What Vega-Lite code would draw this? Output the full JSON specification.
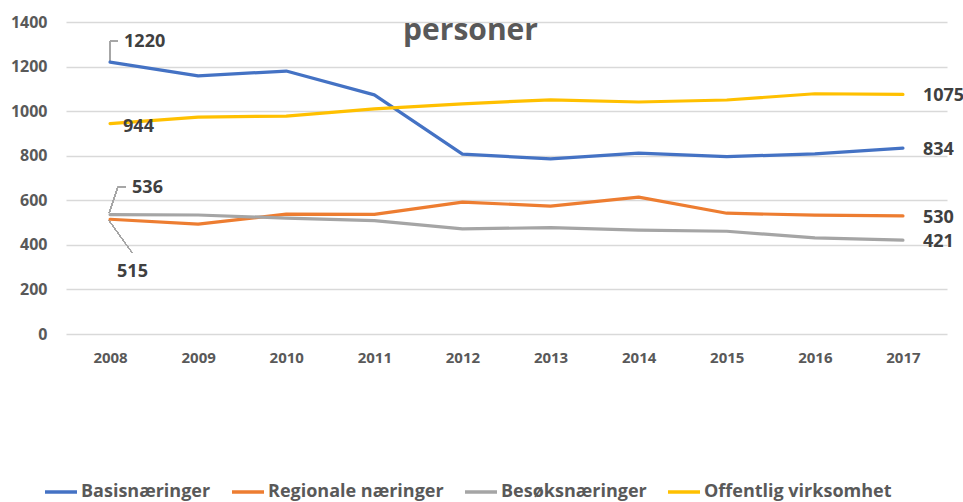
{
  "$schema": "https://vega.github.io/schema/vega-lite/v6.json",
  "width": 881,
  "height": 312,
  "autosize": {"type": "none"},
  "padding": {"left": 66, "top": 22, "right": 16, "bottom": 168},
  "background": "white",
  "config": {
    "view": {"stroke": null},
    "font": "Open Sans",
    "text": {"font": "Open Sans"}
  },
  "title": {
    "text": "personer",
    "fontSize": 30,
    "fontWeight": "bold",
    "color": "#595959",
    "font": "Open Sans",
    "anchor": "middle",
    "baseline": "top",
    "offset": -32,
    "dx": -36
  },
  "data": {
    "values": [
      {"series": "Basisnæringer", "year": 2008, "value": 1220},
      {"series": "Basisnæringer", "year": 2009, "value": 1158},
      {"series": "Basisnæringer", "year": 2010, "value": 1180},
      {"series": "Basisnæringer", "year": 2011, "value": 1073},
      {"series": "Basisnæringer", "year": 2012, "value": 807},
      {"series": "Basisnæringer", "year": 2013, "value": 786},
      {"series": "Basisnæringer", "year": 2014, "value": 812},
      {"series": "Basisnæringer", "year": 2015, "value": 796},
      {"series": "Basisnæringer", "year": 2016, "value": 808},
      {"series": "Basisnæringer", "year": 2017, "value": 834},
      {"series": "Regionale næringer", "year": 2008, "value": 515},
      {"series": "Regionale næringer", "year": 2009, "value": 493},
      {"series": "Regionale næringer", "year": 2010, "value": 538},
      {"series": "Regionale næringer", "year": 2011, "value": 537},
      {"series": "Regionale næringer", "year": 2012, "value": 592},
      {"series": "Regionale næringer", "year": 2013, "value": 574},
      {"series": "Regionale næringer", "year": 2014, "value": 614},
      {"series": "Regionale næringer", "year": 2015, "value": 542},
      {"series": "Regionale næringer", "year": 2016, "value": 533},
      {"series": "Regionale næringer", "year": 2017, "value": 530},
      {"series": "Besøksnæringer", "year": 2008, "value": 536},
      {"series": "Besøksnæringer", "year": 2009, "value": 534},
      {"series": "Besøksnæringer", "year": 2010, "value": 520},
      {"series": "Besøksnæringer", "year": 2011, "value": 509},
      {"series": "Besøksnæringer", "year": 2012, "value": 472},
      {"series": "Besøksnæringer", "year": 2013, "value": 477},
      {"series": "Besøksnæringer", "year": 2014, "value": 466},
      {"series": "Besøksnæringer", "year": 2015, "value": 461},
      {"series": "Besøksnæringer", "year": 2016, "value": 431},
      {"series": "Besøksnæringer", "year": 2017, "value": 421},
      {"series": "Offentlig virksomhet", "year": 2008, "value": 944},
      {"series": "Offentlig virksomhet", "year": 2009, "value": 973},
      {"series": "Offentlig virksomhet", "year": 2010, "value": 978},
      {"series": "Offentlig virksomhet", "year": 2011, "value": 1010},
      {"series": "Offentlig virksomhet", "year": 2012, "value": 1033},
      {"series": "Offentlig virksomhet", "year": 2013, "value": 1051},
      {"series": "Offentlig virksomhet", "year": 2014, "value": 1041},
      {"series": "Offentlig virksomhet", "year": 2015, "value": 1050},
      {"series": "Offentlig virksomhet", "year": 2016, "value": 1078},
      {"series": "Offentlig virksomhet", "year": 2017, "value": 1075}
    ]
  },
  "encoding": {
    "x": {
      "field": "year",
      "type": "quantitative",
      "scale": {"domain": [2007.5, 2017.5], "nice": false, "zero": false},
      "axis": {
        "title": null,
        "values": [2008, 2009, 2010, 2011, 2012, 2013, 2014, 2015, 2016, 2017],
        "format": "d",
        "grid": false,
        "domain": false,
        "ticks": false,
        "labelFont": "Open Sans",
        "labelFontSize": 15,
        "labelFontWeight": "bold",
        "labelColor": "#595959",
        "labelPadding": 16
      }
    },
    "y": {
      "field": "value",
      "type": "quantitative",
      "scale": {"domain": [0, 1400], "nice": false},
      "axis": {
        "title": null,
        "values": [0, 200, 400, 600, 800, 1000, 1200, 1400],
        "format": "d",
        "grid": true,
        "gridColor": "#d9d9d9",
        "gridWidth": 1.3,
        "domain": false,
        "ticks": false,
        "labelFont": "Open Sans",
        "labelFontSize": 16,
        "labelFontWeight": "bold",
        "labelColor": "#595959",
        "labelPadding": 19
      }
    }
  },
  "layer": [
    {
      "mark": {"type": "rule", "color": "#a6a6a6", "strokeWidth": 1},
      "encoding": {"x": {"datum": 2008}, "y": {"datum": 1226}, "x2": {"datum": 2008}, "y2": {"datum": 1314}}
    },
    {
      "mark": {"type": "rule", "color": "#a6a6a6", "strokeWidth": 1},
      "encoding": {"x": {"datum": 2008}, "y": {"datum": 1314}, "x2": {"datum": 2008.09}, "y2": {"datum": 1314}}
    },
    {
      "mark": {"type": "rule", "color": "#a6a6a6", "strokeWidth": 1},
      "encoding": {"x": {"datum": 2007.99}, "y": {"datum": 544}, "x2": {"datum": 2008.09}, "y2": {"datum": 660}}
    },
    {
      "mark": {"type": "rule", "color": "#a6a6a6", "strokeWidth": 1},
      "encoding": {"x": {"datum": 2008.09}, "y": {"datum": 660}, "x2": {"datum": 2008.18}, "y2": {"datum": 660}}
    },
    {
      "mark": {"type": "rule", "color": "#a6a6a6", "strokeWidth": 1},
      "encoding": {"x": {"datum": 2007.99}, "y": {"datum": 508}, "x2": {"datum": 2008.25}, "y2": {"datum": 365}}
    },
    {
      "mark": {"type": "line", "strokeWidth": 3.2, "strokeCap": "round", "strokeJoin": "round"},
      "encoding": {
        "color": {
          "field": "series",
          "type": "nominal",
          "sort": ["Basisnæringer", "Regionale næringer", "Besøksnæringer", "Offentlig virksomhet"],
          "scale": {
            "domain": ["Basisnæringer", "Regionale næringer", "Besøksnæringer", "Offentlig virksomhet"],
            "range": ["#4472C4", "#ED7D31", "#A5A5A5", "#FFC000"]
          },
          "legend": {
            "title": null,
            "orient": "none",
            "direction": "horizontal",
            "columns": 4,
            "legendX": -23,
            "legendY": 452,
            "padding": 0,
            "symbolType": "stroke",
            "symbolStrokeWidth": 3.5,
            "symbolSize": 1024,
            "labelFont": "Open Sans",
            "labelFontSize": 18,
            "labelFontWeight": "bold",
            "labelColor": "#595959",
            "labelOffset": 2,
            "columnPadding": 14,
            "labelLimit": 400
          }
        }
      }
    },
    {
      "transform": [{"filter": "datum.year == 2017"}],
      "mark": {"type": "text", "align": "left", "baseline": "middle", "dx": 20, "dy": 2, "fontSize": 18, "fontWeight": "bold", "color": "#404040", "font": "Open Sans"},
      "encoding": {"text": {"field": "value", "type": "quantitative"}}
    },
    {
      "transform": [{"filter": "datum.year == 2008 && datum.series == 'Basisnæringer'"}],
      "mark": {"type": "text", "align": "left", "baseline": "middle", "dx": 14, "dy": -20, "fontSize": 18, "fontWeight": "bold", "color": "#404040", "font": "Open Sans"},
      "encoding": {"text": {"field": "value", "type": "quantitative"}}
    },
    {
      "transform": [{"filter": "datum.year == 2008 && datum.series == 'Offentlig virksomhet'"}],
      "mark": {"type": "text", "align": "left", "baseline": "middle", "dx": 13, "dy": 3, "fontSize": 18, "fontWeight": "bold", "color": "#404040", "font": "Open Sans"},
      "encoding": {"text": {"field": "value", "type": "quantitative"}}
    },
    {
      "transform": [{"filter": "datum.year == 2008 && datum.series == 'Besøksnæringer'"}],
      "mark": {"type": "text", "align": "left", "baseline": "middle", "dx": 22, "dy": -27, "fontSize": 18, "fontWeight": "bold", "color": "#404040", "font": "Open Sans"},
      "encoding": {"text": {"field": "value", "type": "quantitative"}}
    },
    {
      "transform": [{"filter": "datum.year == 2008 && datum.series == 'Regionale næringer'"}],
      "mark": {"type": "text", "align": "left", "baseline": "middle", "dx": 7, "dy": 53, "fontSize": 18, "fontWeight": "bold", "color": "#404040", "font": "Open Sans"},
      "encoding": {"text": {"field": "value", "type": "quantitative"}}
    }
  ]
}
